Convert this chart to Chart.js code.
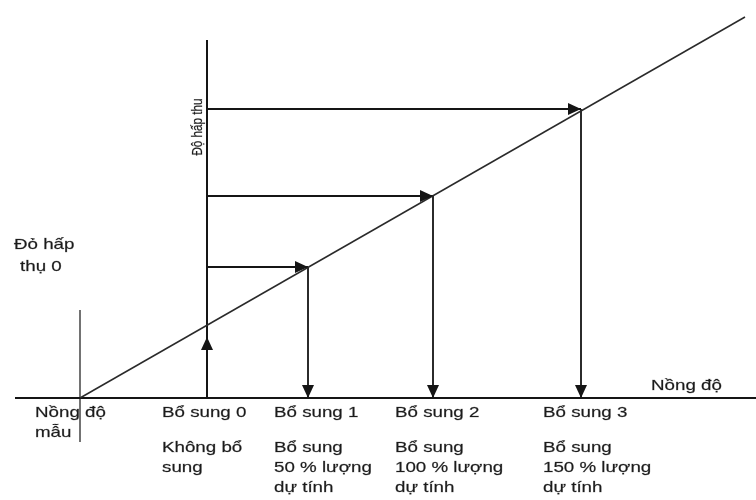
<!DOCTYPE html>
<html><head><meta charset="utf-8">
<script src="https://cdn.jsdelivr.net/npm/chart.js@4/dist/chart.umd.min.js"></script>
<style>html,body{margin:0;padding:0;background:#fff}canvas{display:block}</style>
</head><body>
<canvas id="c" width="756" height="500"></canvas>
<script>
// Concentration positions (arbitrary units): sample intercept and additions 0..3
const sampleConc = -1.27;
const additionConc = [0, 1.01, 2.26, 3.74];
// Absorbance readings for each addition
const absorbance = [0.72, 1.31, 2.02, 2.89];
// Calibration line end (upper right)
const lineEnd = {x: 5.38, y: 3.81};
// Axis extents
const xAxisRange = [-1.92, 5.49];
const yAxisTop = 3.58;
const sampleLineRange = [-0.44, 0.88];
const upArrowTip = 0.61;

const additionLabels = ["Bổ sung 0", "Bổ sung 1", "Bổ sung 2", "Bổ sung 3"];
const additionNotes = [
  ["Không bổ", "sung"],
  ["Bổ sung", "50 % lượng", "dự tính"],
  ["Bổ sung", "100 % lượng", "dự tính"],
  ["Bổ sung", "150 % lượng", "dự tính"]
];
const sampleLabel = ["Nồng độ", "mẫu"];
const xTitle = "Nồng độ";
const yTitle = "Độ hấp thu";
const abs0Label = ["Đỏ hấp", "thụ 0"];

const black = '#151515';
const seg = (a, b, opts) => Object.assign({data: [a, b], showLine: true, pointRadius: 0, borderColor: black, borderWidth: 2, fill: false}, opts || {});

const datasets = [];
// calibration line
datasets.push(seg({x: sampleConc, y: 0}, lineEnd, {borderWidth: 1.5, borderColor: '#2a2a2a'}));
// x axis
datasets.push(seg({x: xAxisRange[0], y: 0}, {x: xAxisRange[1], y: 0}, {borderWidth: 1.8}));
// y axis
datasets.push(seg({x: 0, y: 0}, {x: 0, y: yAxisTop}, {borderWidth: 2}));
// sample vertical
datasets.push(seg({x: sampleConc, y: sampleLineRange[0]}, {x: sampleConc, y: sampleLineRange[1]}, {borderWidth: 1.2}));
// up arrow on y axis
datasets.push(seg({x: 0, y: 0}, {x: 0, y: upArrowTip}, {arrow: true}));
// horizontal and vertical arrows for additions 1..3
for (let i = 1; i < additionConc.length; i++) {
  datasets.push(seg({x: 0, y: absorbance[i]}, {x: additionConc[i], y: absorbance[i]}, {arrow: true, borderWidth: 1.8}));
  datasets.push(seg({x: additionConc[i], y: absorbance[i]}, {x: additionConc[i], y: 0}, {arrow: true, borderWidth: 1.8}));
}

const arrowPlugin = {
  id: 'arrows',
  afterDatasetsDraw(chart) {
    const ctx = chart.ctx;
    const xs = chart.scales.x, ys = chart.scales.y;
    chart.data.datasets.forEach(ds => {
      if (!ds.arrow) return;
      const p0 = ds.data[ds.data.length - 2], p1 = ds.data[ds.data.length - 1];
      const x0 = xs.getPixelForValue(p0.x), y0 = ys.getPixelForValue(p0.y);
      const x1 = xs.getPixelForValue(p1.x), y1 = ys.getPixelForValue(p1.y);
      const ang = Math.atan2(y1 - y0, x1 - x0);
      const L = 13, W = 6;
      ctx.save();
      ctx.translate(x1, y1);
      ctx.rotate(ang);
      ctx.beginPath();
      ctx.moveTo(0, 0);
      ctx.lineTo(-L, -W);
      ctx.lineTo(-L, W);
      ctx.closePath();
      ctx.fillStyle = black;
      ctx.fill();
      ctx.restore();
    });
  }
};

const SX = 1.25;
function txt(ctx, s, x, y) {
  ctx.save();
  ctx.translate(x, y);
  ctx.scale(SX, 1);
  ctx.fillText(s, 0, 0);
  ctx.strokeText(s, 0, 0);
  ctx.restore();
}

const textPlugin = {
  id: 'texts',
  afterDraw(chart) {
    const ctx = chart.ctx;
    const xs = chart.scales.x, ys = chart.scales.y;
    ctx.save();
    ctx.fillStyle = '#1c1c1c';
    ctx.strokeStyle = 'rgba(28,28,28,0.5)';
    ctx.lineWidth = 0.4;
    ctx.font = '15px "Liberation Sans", Arial, sans-serif';
    ctx.textBaseline = 'alphabetic';
    ctx.textAlign = 'left';
    const base = ys.getPixelForValue(0);
    // sample label
    const sx = xs.getPixelForValue(sampleConc);
    txt(ctx, sampleLabel[0], sx - 45, base + 19);
    txt(ctx, sampleLabel[1], sx - 45, base + 39);
    // addition labels
    const offs = [-45, -34, -38, -38];
    additionConc.forEach((c, i) => {
      const px = xs.getPixelForValue(c) + offs[i];
      txt(ctx, additionLabels[i], px, base + 19);
      additionNotes[i].forEach((line, j) => txt(ctx, line, px, base + 54 + j * 20));
    });
    // x title
    txt(ctx, xTitle, 651, base - 8);
    // absorbance 0 label
    txt(ctx, abs0Label[0], 14, 249);
    txt(ctx, abs0Label[1], 20, 271);
    // y title rotated
    ctx.save();
    ctx.translate(xs.getPixelForValue(0) - 5, 127);
    ctx.rotate(-Math.PI / 2);
    ctx.scale(0.78, 1);
    ctx.font = '15px "Liberation Sans", Arial, sans-serif';
    ctx.textAlign = 'center';
    ctx.fillText(yTitle, 0, 0);
    ctx.strokeText(yTitle, 0, 0);
    ctx.restore();
    ctx.restore();
  }
};

new Chart(document.getElementById('c'), {
  type: 'scatter',
  data: {datasets},
  options: {
    responsive: false,
    animation: false,
    devicePixelRatio: 1,
    layout: {padding: 0},
    plugins: {legend: {display: false}, tooltip: {enabled: false}},
    scales: {
      x: {type: 'linear', min: -2.07, max: 5.49, display: false},
      y: {type: 'linear', min: -1.02, max: 3.98, display: false}
    }
  },
  plugins: [arrowPlugin, textPlugin]
});
</script>
</body></html>
